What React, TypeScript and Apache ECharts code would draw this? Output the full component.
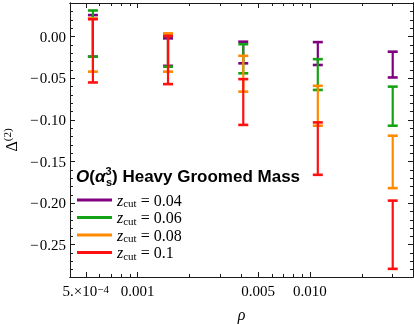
import React, { useEffect, useRef } from 'react';
import * as echarts from 'echarts';

// rho positions of the five points
const rhoValues = [0.00055, 0.0015, 0.0041, 0.0111, 0.0302];

// series: z_cut values, colours and error-bar ranges
const zcutNames = ['0.04', '0.06', '0.08', '0.1'];
const seriesColors = ['#800080', '#14a314', '#ff8a00', '#ff1010'];

const high004 = [0.026, -0.002, -0.006, -0.0065, -0.018];
const low004 = [-0.024, -0.035, -0.032, -0.034, -0.049];
const high006 = [0.0315, 0.001, -0.009, -0.027, -0.060];
const low006 = [-0.024, -0.036, -0.044, -0.064, -0.107];
const high008 = [0.022, 0.004, -0.023, -0.059, -0.119];
const low008 = [-0.042, -0.042, -0.066, -0.107, -0.182];
const high010 = [0.021, 0.001, -0.051, -0.103, -0.197];
const low010 = [-0.055, -0.057, -0.106, -0.166, -0.279];

const highs = [high004, high006, high008, high010];
const lows = [low004, low006, low008, low010];

// axis ranges and ticks
const rhoMin = 0.000405;
const rhoMax = 0.0396;
const yMin = -0.2888;
const yMax = 0.0405;

const xMajorTicks = [0.0005, 0.001, 0.005, 0.01];
const xMajorLabels = ['5.×10{sup|−4}', '0.001', '0.005', '0.010'];
const xMinorTicks = [0.0006, 0.0007, 0.0008, 0.0009, 0.002, 0.003, 0.004, 0.006, 0.007, 0.008, 0.009, 0.02, 0.03];

const yMajorTicks = [0, -0.05, -0.1, -0.15, -0.2, -0.25];
const yMajorLabels = ['0.00', '−\u200a0.05', '−\u200a0.10', '−\u200a0.15', '−\u200a0.20', '−\u200a0.25'];
const yMinorTicks = [0.04, 0.03, 0.02, 0.01, -0.01, -0.02, -0.03, -0.04, -0.06, -0.07, -0.08, -0.09,
  -0.11, -0.12, -0.13, -0.14, -0.16, -0.17, -0.18, -0.19, -0.21, -0.22, -0.23, -0.24, -0.26, -0.27, -0.28];

const SERIF = 'Liberation Serif';
const SANS = 'Liberation Sans';
const AXIS_COLOR = '#1a1a1a';

export default function App() {
  const ref = useRef<HTMLDivElement>(null);

  useEffect(() => {
    if (!ref.current) return;
    const chart = echarts.init(ref.current, undefined, { renderer: 'svg' });
    const lg = Math.log10;
    const xLo = lg(rhoMin);
    const xHi = lg(rhoMax);

    const xMajorLog = xMajorTicks.map(lg);
    const xMinorLog = xMinorTicks.map(lg);

    const xLabelFormatter = (v: number) => {
      for (let i = 0; i < xMajorLog.length; i++) {
        if (Math.abs(xMajorLog[i] - v) < 1e-6) return xMajorLabels[i];
      }
      return '';
    };
    const yLabelFormatter = (v: number) => {
      for (let i = 0; i < yMajorTicks.length; i++) {
        if (Math.abs(yMajorTicks[i] - v) < 1e-9) return yMajorLabels[i];
      }
      return '';
    };

    const makeX = (position: 'bottom' | 'top', major: boolean, labels: boolean) => ({
      type: 'value',
      position,
      min: xLo,
      max: xHi,
      axisLine: { show: true, onZero: false, lineStyle: { color: AXIS_COLOR, width: 1 } },
      axisTick: {
        show: true,
        inside: true,
        length: major ? 5 : 3,
        lineStyle: { color: AXIS_COLOR, width: 1 },
        customValues: major ? xMajorLog : xMinorLog,
      },
      axisLabel: labels
        ? {
            show: true,
            customValues: xMajorLog,
            formatter: xLabelFormatter,
            margin: 6,
            color: '#000',
            fontFamily: SERIF,
            fontSize: 15,
            rich: { sup: { fontFamily: SERIF, fontSize: 11, verticalAlign: 'top', lineHeight: 11, padding: [0, 0, 8, 0] } },
          }
        : { show: false },
      splitLine: { show: false },
    });

    const makeY = (position: 'left' | 'right', major: boolean, labels: boolean) => ({
      type: 'value',
      position,
      min: yMin,
      max: yMax,
      axisLine: { show: true, onZero: false, lineStyle: { color: AXIS_COLOR, width: 1 } },
      axisTick: {
        show: true,
        inside: true,
        length: major ? 5 : 3,
        lineStyle: { color: AXIS_COLOR, width: 1 },
        customValues: major ? yMajorTicks : yMinorTicks,
      },
      axisLabel: labels
        ? {
            show: true,
            customValues: yMajorTicks,
            formatter: yLabelFormatter,
            margin: 4,
            color: '#000',
            fontFamily: SERIF,
            fontSize: 15,
          }
        : { show: false },
      splitLine: { show: false },
    });

    const xAxes: any[] = [
      makeX('bottom', true, true),
      makeX('bottom', false, false),
      makeX('top', true, false),
      makeX('top', false, false),
    ];
    xAxes[0].name = 'ρ';
    xAxes[0].nameLocation = 'middle';
    xAxes[0].nameGap = 27;
    xAxes[0].nameTextStyle = { fontFamily: SERIF, fontStyle: 'italic', fontSize: 16, color: '#000' };

    const yAxes: any[] = [
      makeY('left', true, true),
      makeY('left', false, false),
      makeY('right', true, false),
      makeY('right', false, false),
    ];
    yAxes[0].name = '{d|Δ}{sup|(2)}';
    yAxes[0].nameLocation = 'middle';
    yAxes[0].nameGap = 45;
    yAxes[0].nameRotate = 90;
    yAxes[0].nameTextStyle = {
      color: '#000',
      rich: {
        d: { fontFamily: SERIF, fontSize: 16, color: '#000', verticalAlign: 'bottom', lineHeight: 18 },
        sup: { fontFamily: SERIF, fontSize: 11, color: '#000', verticalAlign: 'top', lineHeight: 18 },
      },
    };

    const capHalf = 5;
    const series = zcutNames.map((name, si) => {
      const data = rhoValues.map((r, i) => [lg(r), lows[si][i], highs[si][i]]);
      const color = seriesColors[si];
      return {
        type: 'custom',
        name,
        xAxisIndex: 0,
        yAxisIndex: 0,
        itemStyle: { color },
        encode: { x: 0, y: [1, 2] },
        data,
        renderItem: (params: any, api: any) => {
          const x = api.value(0);
          const pLo = api.coord([x, api.value(1)]);
          const pHi = api.coord([x, api.value(2)]);
          const st = { stroke: color, lineWidth: 2.2 };
          return {
            type: 'group',
            children: [
              { type: 'line', shape: { x1: pLo[0], y1: pLo[1], x2: pHi[0], y2: pHi[1] }, style: st },
              { type: 'line', shape: { x1: pLo[0] - capHalf, y1: pLo[1], x2: pLo[0] + capHalf, y2: pLo[1] }, style: { stroke: color, lineWidth: 2.6 } },
              { type: 'line', shape: { x1: pHi[0] - capHalf, y1: pHi[1], x2: pHi[0] + capHalf, y2: pHi[1] }, style: { stroke: color, lineWidth: 2.6 } },
            ],
          };
        },
      };
    });

    chart.setOption({
      animation: false,
      grid: { left: 70, right: 1, top: 3, bottom: 47, containLabel: false, outerBoundsMode: 'none' },
      xAxis: xAxes,
      yAxis: yAxes,
      title: {
        text: '{o|O}{p|(}{a|α}{sup|3}{sub|s}{p|) Heavy Groomed Mass}',
        left: 76,
        top: 165,
        padding: 0,
        textStyle: {
          rich: {
            o: { fontFamily: SANS, fontWeight: 'bold', fontStyle: 'italic', fontSize: 17, color: '#000', lineHeight: 22 },
            p: { fontFamily: SANS, fontWeight: 'bold', fontSize: 17, color: '#000', lineHeight: 22 },
            a: { fontFamily: SANS, fontWeight: 'bold', fontStyle: 'italic', fontSize: 17, color: '#000', lineHeight: 22 },
            sup: { fontFamily: SANS, fontWeight: 'bold', fontSize: 11, color: '#000', verticalAlign: 'top', lineHeight: 10, width: 0.5 },
            sub: { fontFamily: SANS, fontWeight: 'bold', fontSize: 11, color: '#000', verticalAlign: 'bottom', lineHeight: 10 },
          },
        },
      },
      legend: {
        orient: 'vertical',
        left: 77,
        top: 192,
        padding: 0,
        itemWidth: 35,
        itemHeight: 3,
        itemGap: 1,
        selectedMode: false,
        data: zcutNames.map((n, i) => ({ name: n, icon: 'rect', itemStyle: { color: seriesColors[i] } })),
        formatter: (name: string) => `{z|z}{sub|cut}{t| = ${name}}`,
        textStyle: {
          color: '#000',
          rich: {
            z: { fontFamily: SERIF, fontStyle: 'italic', fontSize: 16, color: '#000', lineHeight: 17 },
            sub: { fontFamily: SERIF, fontSize: 11, color: '#000', verticalAlign: 'bottom', lineHeight: 11 },
            t: { fontFamily: SERIF, fontSize: 16, color: '#000', lineHeight: 17 },
          },
        },
      },
      series,
    });
    return () => chart.dispose();
  }, []);

  return <div ref={ref} style={{ position: 'fixed', left: 0, top: 0, width: 414, height: 324 }} />;
}
